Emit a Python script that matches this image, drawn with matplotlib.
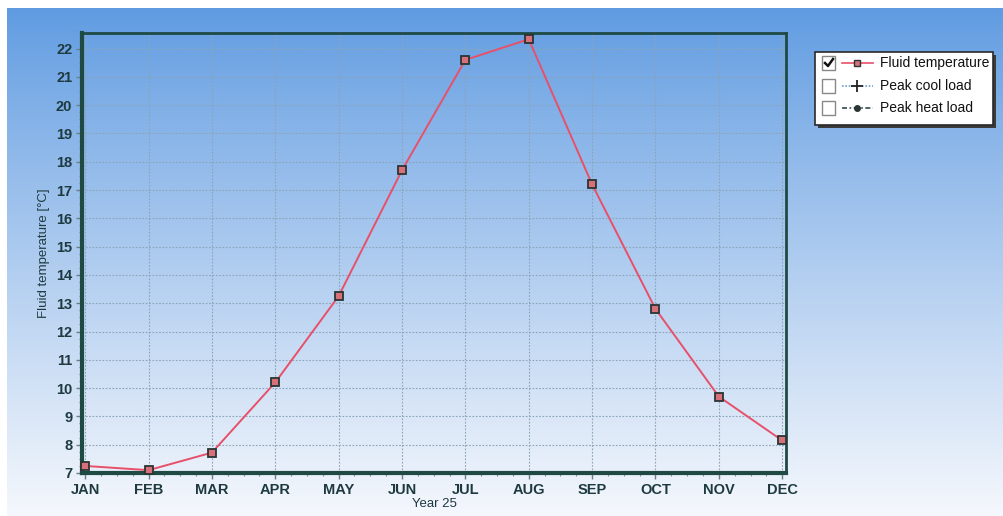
import numpy as np
import matplotlib
matplotlib.use('Agg')
import matplotlib.pyplot as plt
from matplotlib.patches import Rectangle
from matplotlib.lines import Line2D
from matplotlib.ticker import MultipleLocator

# Data
months = ['JAN', 'FEB', 'MAR', 'APR', 'MAY', 'JUN', 'JUL', 'AUG', 'SEP', 'OCT', 'NOV', 'DEC']
fluid_temp = [7.25, 7.1, 7.72, 10.2, 13.25, 17.7, 21.6, 22.33, 17.2, 12.8, 9.7, 8.15]
y_ticks = list(range(7, 23))

legend_labels = ['Fluid temperature', 'Peak cool load', 'Peak heat load']

plt.rcParams['font.family'] = ['Liberation Sans', 'DejaVu Sans']
W, H = 1004, 516
fig = plt.figure(figsize=(W / 100, H / 100), dpi=100)

# scanned-page background: blue on top fading to white
bg = fig.add_axes([0, 0, 1, 1], zorder=-10)
grad = np.linspace(0, 1, 256)[:, None]
top = np.array([0.36, 0.60, 0.88])
bot = np.array([0.96, 0.97, 0.99])
mix = np.clip(grad ** 0.9, 0, 1)
img = top[None, None, :] * (1 - mix[..., None]) + bot[None, None, :] * mix[..., None]
img = np.repeat(img, 4, axis=1)
bg.imshow(img, aspect='auto', extent=[0, 1, 0, 1], origin='upper')
bg.add_patch(Rectangle((0, 1 - 8 / H), 1, 8 / H, color='white', lw=0))
bg.add_patch(Rectangle((0, 0), 7 / W, 1, color='white', lw=0))
bg.set_xlim(0, 1)
bg.set_ylim(0, 1)
bg.axis('off')

def fx(px):
    return px / W

def fy(py):
    return 1 - py / H

ax = fig.add_axes([fx(82), fy(473), fx(786) - fx(82), fy(33) - fy(473)])
ax.patch.set_alpha(0)

x = np.arange(len(months))
ax.plot(x, fluid_temp, color='#e8506a', lw=1.4, marker='s', ms=6,
        mfc='#d8707a', mec='#2a3535', mew=1.3, zorder=5, clip_on=False)

ax.set_xlim(-0.05, 11.06)
ax.set_ylim(7, 22.55)
ax.set_xticks(x)
ax.set_xticklabels(months)
ax.set_yticks(y_ticks)
ax.xaxis.set_minor_locator(MultipleLocator(0.25))
ax.yaxis.set_minor_locator(MultipleLocator(0.25))

ax.grid(True, which='major', color='#8ba4b8', ls=(0, (1.5, 1.5)), lw=0.8)

tick_col = '#1e3a40'
ax.tick_params(axis='both', which='major', direction='out', length=4, width=1,
               color='#6a7f88', labelsize=10.5, labelcolor=tick_col, pad=3)
ax.tick_params(axis='both', which='minor', direction='out', length=2, width=0.8,
               color='#7a8f98')
for lab in ax.get_xticklabels() + ax.get_yticklabels():
    lab.set_fontweight('bold')

spine_col = '#1f4a44'
for side, w in [('left', 3), ('bottom', 3), ('top', 2), ('right', 2)]:
    ax.spines[side].set_color(spine_col)
    ax.spines[side].set_linewidth(w)

ax.set_ylabel('Fluid temperature [°C]', fontsize=9.5, color=tick_col, labelpad=4)
ax.set_xlabel('Year 25', fontsize=9.5, color=tick_col, labelpad=1)

# legend with check boxes, drawn in figure coordinates
lx0, lx1, ly0, ly1 = 815, 993, 52, 125
fig.patches.append(Rectangle((fx(lx0 + 3), fy(ly1 + 3)), fx(lx1) - fx(lx0), fy(ly0) - fy(ly1),
                             transform=fig.transFigure, fc='#3a3a3a', ec='none', zorder=20))
fig.patches.append(Rectangle((fx(lx0), fy(ly1)), fx(lx1) - fx(lx0), fy(ly0) - fy(ly1),
                             transform=fig.transFigure, fc='white', ec='#2a2a2a', lw=1.2, zorder=21))
rows = [63, 86, 108]
styles = [
    dict(color='#e8506a', ls='-', marker='s', ms=5, mfc='#d8707a', mec='#2a3535'),
    dict(color='#6aa0d0', ls=(0, (1, 1)), marker='+', ms=9, mec='#222222', mew=1.3),
    dict(color='#3a4a50', ls=(0, (3, 1.5, 1, 1.5)), marker='o', ms=4, mfc='#2a3535', mec='#2a3535'),
]
for i, (ry, lab, st) in enumerate(zip(rows, legend_labels, styles)):
    fig.patches.append(Rectangle((fx(822), fy(ry + 7)), fx(13), fy(0) - fy(14),
                                 transform=fig.transFigure, fc='white', ec='#888888', lw=1.0, zorder=22))
    if i == 0:
        fig.lines.append(Line2D([fx(825), fx(828), fx(833)], [fy(ry), fy(ry + 3), fy(ry - 4)],
                                transform=fig.transFigure, color='#111111', lw=1.8, zorder=23))
    fig.lines.append(Line2D([fx(842), fx(873)], [fy(ry), fy(ry)], transform=fig.transFigure,
                            lw=1.2, zorder=23, markevery=[0], **{k: v for k, v in st.items()}))
    fig.text(fx(880), fy(ry), lab, fontsize=10, color='#111111', va='center', ha='left', zorder=24)

# put the marker in the middle of the sample line
for ln in fig.lines:
    xd = ln.get_xdata()
    if len(xd) == 2:
        ln.set_xdata([xd[0], (xd[0] + xd[1]) / 2, xd[1]])
        ln.set_ydata([ln.get_ydata()[0]] * 3)
        ln.set_markevery([1])

fig.savefig('out.png', dpi=100)
